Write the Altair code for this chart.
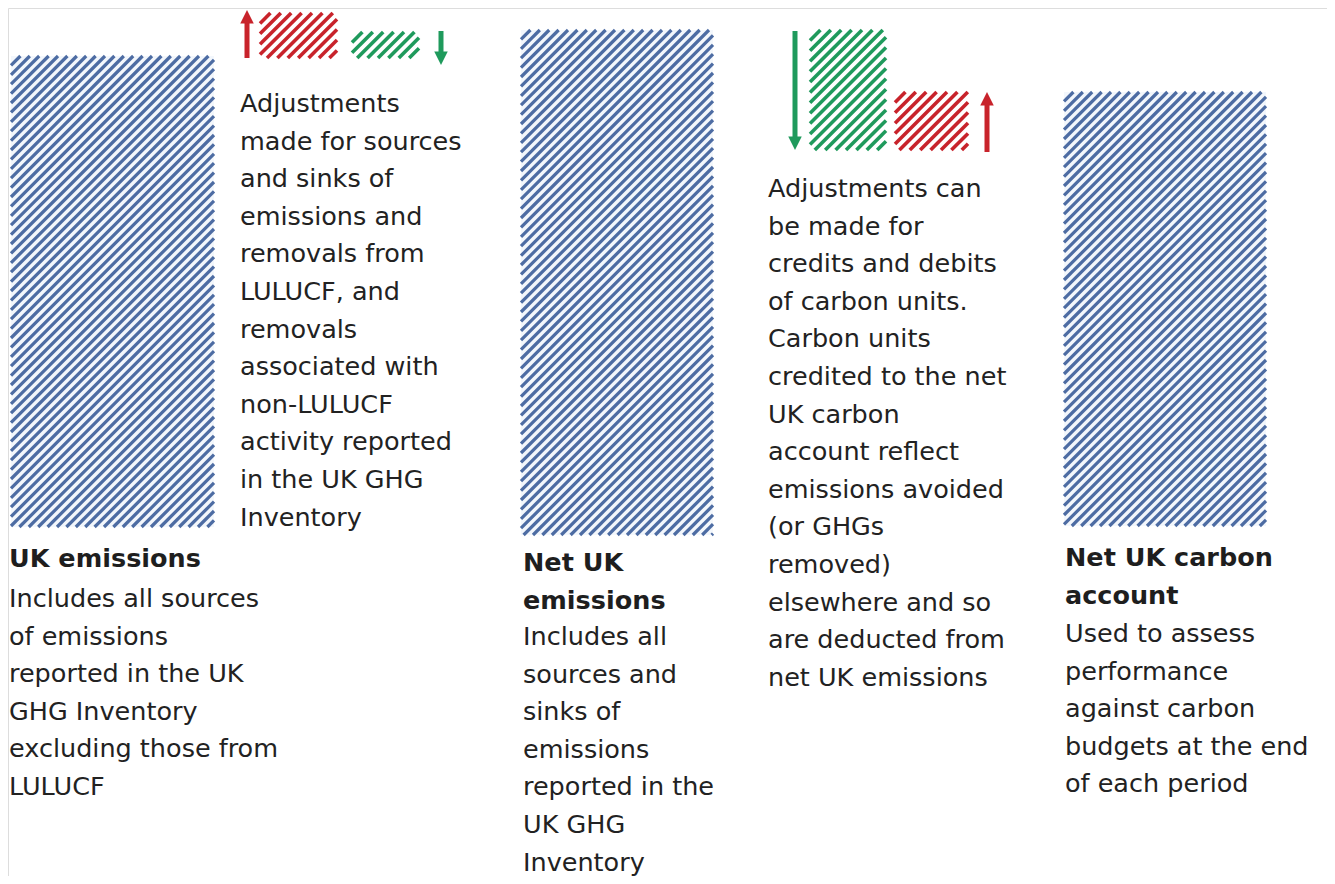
import altair as alt
import pandas as pd
import numpy as np

# ---------------- data (reference pixel frame) ----------------
bar_names = ["UK emissions", "Net UK emissions", "Net UK carbon account"]
bar_left = [11, 521, 1064]
bar_right = [214, 713, 1266]
bar_top = [56, 30, 92]
bar_bottom = [527, 535, 526]

adj_names = ["LULUCF debit", "LULUCF credit", "Units credited", "Units debited"]
adj_color = ["red", "green", "green", "red"]
adj_left = [260, 352, 810, 895]
adj_right = [337, 419, 886, 968]
adj_top = [13, 32, 30, 92]
adj_bottom = [58, 58, 150, 150]

arrow_x = [247, 441, 795, 987]
arrow_base = [58, 31, 31, 152]
arrow_tip = [10, 65, 150, 92]
arrow_color = ["red", "green", "green", "red"]

title_x = [9, 523, 1065]
title_y = [567, 571, 566]
title_text = ["UK emissions", "Net UK\nemissions", "Net UK carbon\naccount"]

body_x = [240, 9, 523, 768, 1065]
body_y = [112, 607, 645, 197, 642]
body_text = [
    "Adjustments\nmade for sources\nand sinks of\nemissions and\nremovals from\nLULUCF, and\nremovals\nassociated with\nnon-LULUCF\nactivity reported\nin the UK GHG\nInventory",
    "Includes all sources\nof emissions\nreported in the UK\nGHG Inventory\nexcluding those from\nLULUCF",
    "Includes all\nsources and\nsinks of\nemissions\nreported in the\nUK GHG\nInventory",
    "Adjustments can\nbe made for\ncredits and debits\nof carbon units.\nCarbon units\ncredited to the net\nUK carbon\naccount reflect\nemissions avoided\n(or GHGs\nremoved)\nelsewhere and so\nare deducted from\nnet UK emissions",
    "Used to assess\nperformance\nagainst carbon\nbudgets at the end\nof each period",
]

BLUE = "#4d6ca3"
RED = "#c8232b"
GREEN = "#1f9a5c"
FONT = "DejaVu Sans"
FS = 25.5
LH = 37.6

W, H = 1335 - 16, 884 - 16
xs = alt.Scale(domain=[8, 8 + W], nice=False, zero=False)
ys = alt.Scale(domain=[8 + H, 8], nice=False, zero=False)


def hatch(left, right, top, bottom, period, group):
    rows = []
    c = left + top
    while c < right + bottom + period:
        xa = max(left, c - bottom)
        xb = min(right, c - top)
        if xb - xa > 0.5:
            rows.append({"x": xa, "y": c - xa, "x2": xb, "y2": c - xb, "g": group})
        c += period
    return rows


bars_df = pd.DataFrame({"name": bar_names, "l": bar_left, "r": bar_right,
                        "t": bar_top, "b": bar_bottom})

blue_rows = []
for i in range(len(bar_names)):
    blue_rows += hatch(bar_left[i], bar_right[i], bar_top[i], bar_bottom[i], 9.4, "blue")
adj_rows = []
for i in range(len(adj_names)):
    adj_rows += hatch(adj_left[i], adj_right[i], adj_top[i], adj_bottom[i], 10.4, adj_color[i])

blue_df = pd.DataFrame(blue_rows)
adjh_df = pd.DataFrame(adj_rows)

X = lambda f: alt.X(f, type="quantitative", scale=xs, axis=None)
Y = lambda f: alt.Y(f, type="quantitative", scale=ys, axis=None)

bg_bars = alt.Chart(bars_df).mark_rect(color="#f3f7fc").encode(
    x=X("l"), x2="r", y=Y("t"), y2="b")

blue_hatch = alt.Chart(blue_df).mark_rule(color=BLUE, strokeWidth=3.2, strokeCap="butt").encode(
    x=X("x"), y=Y("y"), x2="x2", y2="y2")

col_scale = alt.Scale(domain=["red", "green"], range=[RED, GREEN])

adj_hatch = alt.Chart(adjh_df).mark_rule(strokeWidth=3.6, strokeCap="butt").encode(
    x=X("x"), y=Y("y"), x2="x2", y2="y2",
    color=alt.Color("g:N", scale=col_scale, legend=None))

# arrows
HEAD = 13.5
ar = pd.DataFrame({"x": arrow_x, "base": arrow_base, "tip": arrow_tip, "c": arrow_color})
ar["dir"] = np.sign(ar["tip"] - ar["base"])  # +1 down, -1 up
ar["neck"] = ar["tip"] - ar["dir"] * (HEAD - 1)
ar["head_c"] = ar["tip"] - ar["dir"] * HEAD / 2

shafts = alt.Chart(ar).mark_rule(strokeWidth=5, strokeCap="butt").encode(
    x=X("x"), y=Y("base"), y2="neck",
    color=alt.Color("c:N", scale=col_scale, legend=None))

heads_down = alt.Chart(ar[ar["dir"] > 0]).mark_point(
    shape="M-1,-1L1,-1L0,1Z", filled=True, opacity=1, size=HEAD * HEAD, strokeWidth=0).encode(
    x=X("x"), y=Y("head_c"),
    color=alt.Color("c:N", scale=col_scale, legend=None))
heads_up = alt.Chart(ar[ar["dir"] < 0]).mark_point(
    shape="M-1,1L1,1L0,-1Z", filled=True, opacity=1, size=HEAD * HEAD, strokeWidth=0).encode(
    x=X("x"), y=Y("head_c"),
    color=alt.Color("c:N", scale=col_scale, legend=None))

titles_df = pd.DataFrame({"x": title_x, "y": title_y, "t": title_text})
body_df = pd.DataFrame({"x": body_x, "y": body_y, "t": body_text})

titles = alt.Chart(titles_df).mark_text(
    align="left", baseline="alphabetic", font=FONT, fontSize=FS, fontWeight="bold",
    color="#1e1e1e", lineBreak="\n", lineHeight=LH).encode(
    x=X("x"), y=Y("y"), text="t:N")

bodies = alt.Chart(body_df).mark_text(
    align="left", baseline="alphabetic", font=FONT, fontSize=FS,
    color="#222222", lineBreak="\n", lineHeight=LH).encode(
    x=X("x"), y=Y("y"), text="t:N")

chart = alt.layer(bg_bars, blue_hatch, adj_hatch, shafts, heads_down, heads_up, titles, bodies).properties(
    width=W, height=H, padding=0, autosize=alt.AutoSizeParams(type="none")
).configure_view(strokeWidth=0, stroke="transparent").configure(background="white")

chart.save("out.html", embed_options={"renderer": "svg", "actions": False})
